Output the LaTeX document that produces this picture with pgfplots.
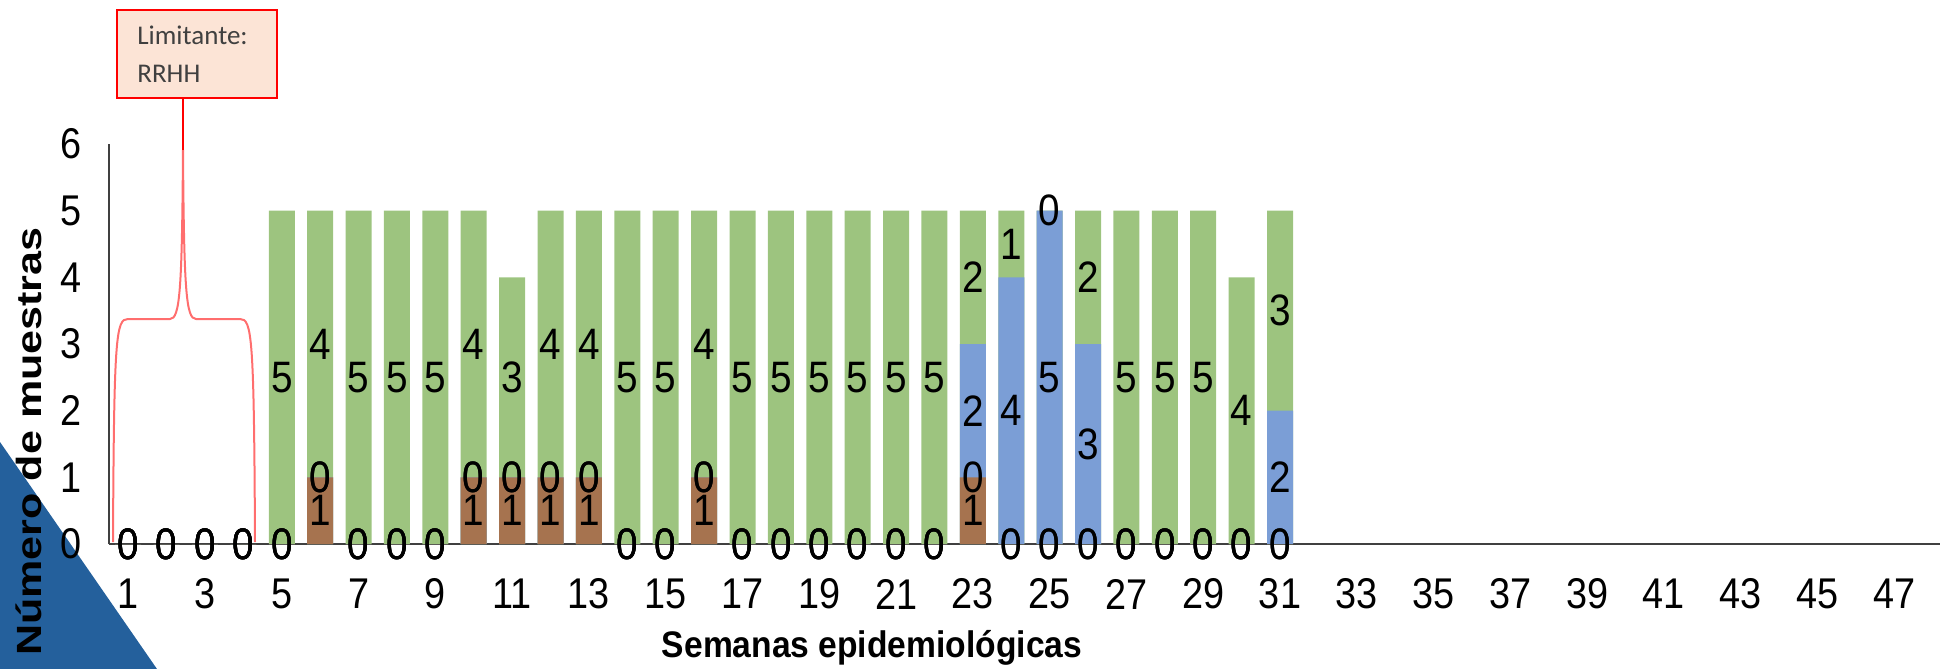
\documentclass[border=0pt]{standalone}
\usepackage{fontspec}
\setmainfont{Liberation Sans}
\newfontfamily\calibri{Carlito}
\usepackage{pgfplots}
\usepackage{pgfplotstable}
\pgfplotsset{compat=1.18}
\definecolor{cgreen}{RGB}{157,196,127}
\definecolor{cblue}{RGB}{123,158,214}
\definecolor{cbrown}{RGB}{166,115,79}
\definecolor{cpeach}{RGB}{252,228,214}
\definecolor{ctri}{RGB}{36,96,156}
\definecolor{cbrace}{RGB}{255,110,110}
\definecolor{ctext}{RGB}{64,64,64}

% w = semana, b = marron, o = (sin color), u = azul, g = verde
\pgfplotstableread{
w b o u g
1 0 0 0 0
2 0 0 0 0
3 0 0 0 0
4 0 0 0 0
5 0 0 0 5
6 1 0 0 4
7 0 0 0 5
8 0 0 0 5
9 0 0 0 5
10 1 0 0 4
11 1 0 0 3
12 1 0 0 4
13 1 0 0 4
14 0 0 0 5
15 0 0 0 5
16 1 0 0 4
17 0 0 0 5
18 0 0 0 5
19 0 0 0 5
20 0 0 0 5
21 0 0 0 5
22 0 0 0 5
23 1 0 2 2
24 0 0 4 1
25 0 0 5 0
26 0 0 3 2
27 0 0 0 5
28 0 0 0 5
29 0 0 0 5
30 0 0 0 4
31 0 0 2 3
}\data

\begin{document}
\begin{tikzpicture}
\useasboundingbox (0,0) rectangle (970pt,-334.5pt);
\fill[ctri] (0,-221pt) -- (0,-334.5pt) -- (78.5pt,-334.5pt) -- cycle;
\begin{axis}[
  at={(54.5pt,-272pt)}, anchor=south west, scale only axis,
  width=915.5pt, height=200pt,
  xmin=0.5, xmax=48.19, ymin=0, ymax=6,
  axis lines=left,
  axis line style={-, line width=1pt, draw=black!75},
  xtick={1,3,...,47}, ytick={0,1,...,6},
  major tick length=0pt,
  tick label style={font=\fontsize{21.5}{24}\selectfont, xscale=0.88},
  xticklabel style={anchor=center, inner sep=0pt, yshift=-25pt},
  yticklabel style={anchor=center, inner sep=0pt, xshift=-21.5pt},
  /pgf/number format/assume math mode=true,
  clip=false,
  nodes near coords style={font=\fontsize{22}{24}\selectfont, xscale=0.88, anchor=center, inner sep=0pt, text=black},
]
% bars (drawn as overlapping cumulative heights)
\addplot[ybar, bar width=13pt, bar shift=0pt, fill=cgreen, draw=none]
  table[x=w, y expr=\thisrow{b}+\thisrow{o}+\thisrow{u}+\thisrow{g}] {\data};
\addplot[ybar, bar width=13pt, bar shift=0pt, fill=cblue, draw=none]
  table[x=w, y expr=\thisrow{b}+\thisrow{o}+\thisrow{u}] {\data};
\addplot[ybar, bar width=13pt, bar shift=0pt, fill=cbrown, draw=none]
  table[x=w, y=b] {\data};
% segment labels
\addplot[draw=none, mark=none, nodes near coords, point meta=explicit]
  table[x=w, y expr=\thisrow{b}/2, meta=b] {\data};
\addplot[draw=none, mark=none, nodes near coords, point meta=explicit]
  table[x=w, y expr=\thisrow{b}+\thisrow{o}/2, meta=o] {\data};
\addplot[draw=none, mark=none, nodes near coords, point meta=explicit]
  table[x=w, y expr=\thisrow{b}+\thisrow{o}+\thisrow{u}/2, meta=u] {\data};
\addplot[draw=none, mark=none, nodes near coords, point meta=explicit]
  table[x=w, y expr=\thisrow{b}+\thisrow{o}+\thisrow{u}+\thisrow{g}/2, meta=g] {\data};
\end{axis}
% axis titles
\node[anchor=base, yscale=1.1, font=\bfseries\fontsize{16.8}{20}\selectfont] at (436pt,-328.5pt) {Semanas epidemiológicas};
\node[anchor=east, rotate=90, xscale=1.23, inner sep=0pt, font=\bfseries\fontsize{17.5}{20}\selectfont] at (14.5pt,-113.5pt) {Número de muestras};
% callout
\begin{scope}[x=0.5pt, y=-0.5pt]
\draw[cbrace, line width=1pt]
  (113,542) .. controls (114,335) and (116,319) .. (128,319) -- (170,319)
  .. controls (180,319) and (182,290) .. (183,150);
\draw[cbrace, line width=1pt]
  (255,542) .. controls (254,335) and (252,319) .. (240,319) -- (196,319)
  .. controls (186,319) and (184,290) .. (183,150);
\draw[red, line width=0.9pt] (183,98) -- (183,150);
\draw[red, line width=1.3pt, fill=cpeach] (117,10) rectangle (277,98);
\node[anchor=base west, inner sep=0pt, text=ctext, font=\calibri\fontsize{13.5}{15}\selectfont] at (137,45) {Limitante:};
\node[anchor=base west, inner sep=0pt, text=ctext, font=\calibri\fontsize{13.5}{15}\selectfont] at (137,82) {RRHH};
\end{scope}
\end{tikzpicture}
\end{document}
